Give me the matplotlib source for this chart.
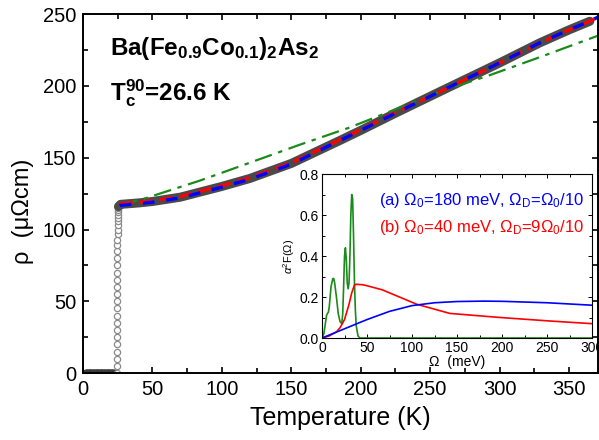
import matplotlib
matplotlib.use('Agg')
import matplotlib.pyplot as plt
from matplotlib.ticker import MultipleLocator

plt.rcParams['font.family'] = ['Liberation Sans', 'DejaVu Sans']
plt.rcParams['mathtext.fontset'] = 'custom'
plt.rcParams['mathtext.rm'] = 'Liberation Sans'
plt.rcParams['mathtext.it'] = 'Liberation Sans:italic'
plt.rcParams['mathtext.bf'] = 'Liberation Sans:bold'

# measured resistivity: superconducting state, transition and normal state
T_zero = [2, 3, 4, 5, 6, 7, 8, 9, 10, 11, 12, 13, 14, 15, 16, 17, 18, 19, 20, 21, 22]
rho_zero = [0, 0, 0, 0, 0, 0, 0, 0, 0, 0, 0, 0, 0, 0, 0, 0, 0, 0, 0, 0, 0]
T_trans = [24.6, 24.6, 24.6, 24.6, 24.6, 24.6, 24.6, 24.6, 24.6, 24.6, 24.6, 24.6,
           24.6, 24.6, 24.6, 24.7, 24.7, 24.7, 24.8, 24.8, 24.9, 24.9, 25.0, 25.0,
           25.1, 25.1, 25.2, 25.2, 25.3, 25.4]
rho_trans = [0, 5, 10, 15, 20, 25, 30, 35, 40, 45, 50, 55, 60, 65, 70, 75, 80, 85,
             89, 93, 97, 100, 103, 106, 108, 110, 112, 113.5, 115, 116]
T_norm = [25.5, 27, 40, 50, 70, 84, 100, 120, 150, 185, 200, 225, 257, 300, 329, 350, 365]
rho_norm = [116, 117.5, 118.5, 119.5, 122.5, 126, 130, 135.5, 146, 162, 169, 181,
            196, 216, 230, 239, 245]

# model curves
T_fit = [26.5, 27, 40, 50, 70, 84, 100, 120, 150, 185, 200, 225, 257, 300, 329, 350, 365, 371]
rho_a = [116.5, 116.8, 118, 119, 122, 125.5, 129.5, 135, 145.5, 162, 169, 181, 196, 216,
         230, 239, 245, 248]
rho_b = [117.5, 118, 119, 120, 123, 126.5, 130.5, 136, 146.5, 162.5, 169.5, 181.5, 196,
         216, 230, 239, 245, 248]
T_c = [26.5, 27, 41, 84, 100, 156, 192, 257, 293, 329, 371]
rho_c = [117.5, 117.5, 120.5, 134, 139.5, 159, 171, 196, 207.5, 220, 235]

# inset: Eliashberg functions
W_g = [0, 2, 4, 5, 6, 7, 8, 10, 12, 13, 14, 16, 18, 20, 22, 23, 24, 25, 26, 27, 28, 29,
       30, 31, 32, 33, 34, 35, 36, 37, 38, 40, 42, 300]
a2F_g = [0, 0.02, 0.08, 0.11, 0.12, 0.125, 0.15, 0.25, 0.29, 0.29, 0.27, 0.2, 0.12, 0.08,
         0.07, 0.12, 0.25, 0.4, 0.44, 0.38, 0.27, 0.24, 0.27, 0.4, 0.6, 0.7, 0.68, 0.5,
         0.28, 0.14, 0.06, 0.01, 0, 0]
W_a = [0, 25, 50, 75, 100, 125, 150, 180, 200, 250, 300]
a2F_a = [0, 0.045, 0.09, 0.13, 0.158, 0.172, 0.178, 0.18, 0.179, 0.172, 0.16]
W_b = [0, 8, 16, 20, 25, 30, 33, 36, 38, 45, 50, 67, 86, 105, 142, 198, 253, 300]
a2F_b = [0, 0.01, 0.03, 0.05, 0.09, 0.165, 0.22, 0.258, 0.262, 0.26, 0.255, 0.235, 0.2,
         0.165, 0.12, 0.1, 0.083, 0.07]

fig = plt.figure(figsize=(5.99, 4.40), dpi=100)
ax = fig.add_axes([0.1386, 0.152, 0.86, 0.816])

ax.plot(T_zero, rho_zero, 'o', ms=4.5, mfc='none', mec='#3a3a3a', mew=1.4)
ax.plot(T_trans, rho_trans, 'o', ms=4.5, mfc='white', mec='#8a8a8a', mew=0.9)
ax.plot(T_norm, rho_norm, '-', color='#4a4a4a', lw=6.5, solid_capstyle='round')
ax.plot(T_c, rho_c, color='#1a8a1a', lw=1.6, dashes=(8, 3, 2, 3))
ax.plot(T_fit, rho_b, color='#ff0000', lw=2.4, dashes=(4, 2))
ax.plot(T_fit, rho_a, color='#0000ff', lw=2.4, dashes=(3.5, 3.5))

ax.set_xlim(0, 371)
ax.set_ylim(0, 250)
ax.xaxis.set_major_locator(MultipleLocator(50))
ax.xaxis.set_minor_locator(MultipleLocator(25))
ax.yaxis.set_major_locator(MultipleLocator(50))
ax.yaxis.set_minor_locator(MultipleLocator(25))
ax.tick_params(which='both', direction='in', top=True, right=True, width=1.2)
ax.tick_params(which='major', length=4, labelsize=14.5, pad=5)
ax.tick_params(which='minor', length=3.5)
for s in ax.spines.values():
    s.set_linewidth(1.4)

ax.set_xlabel('Temperature (K)', fontsize=18, labelpad=5)
ax.set_ylabel('ρ  (μΩcm)', fontsize=17)
ax.yaxis.set_label_coords(-0.095, 0.45)

ax.text(0.052, 0.886, r'Ba(Fe$_\mathbf{0.9}$Co$_\mathbf{0.1}$)$_\mathbf{2}$As$_\mathbf{2}$',
        transform=ax.transAxes, fontsize=17.5, fontweight='bold', va='baseline')
ax.text(0.052, 0.760, r'T$_\mathbf{c}^\mathbf{90}$=26.6 K',
        transform=ax.transAxes, fontsize=17.5, fontweight='bold', va='baseline')

# inset
ins = fig.add_axes([0.5376, 0.2318, 0.4508, 0.3727])
ins.plot(W_g, a2F_g, color='#1a8a1a', lw=1.2)
ins.plot(W_b, a2F_b, color='#ff0000', lw=1.2)
ins.plot(W_a, a2F_a, color='#0000ff', lw=1.2)
ins.set_xlim(0, 300)
ins.set_ylim(0, 0.8)
ins.xaxis.set_major_locator(MultipleLocator(50))
ins.xaxis.set_minor_locator(MultipleLocator(25))
ins.yaxis.set_major_locator(MultipleLocator(0.2))
ins.yaxis.set_minor_locator(MultipleLocator(0.1))
ins.yaxis.set_major_formatter('{x:.1f}')
ins.tick_params(which='both', direction='in', top=True, right=True, width=0.7,
                labelsize=10, pad=2)
ins.tick_params(which='major', length=3)
ins.tick_params(which='minor', length=2)
for s in ins.spines.values():
    s.set_linewidth(0.8)
ins.set_xlabel('Ω  (meV)', fontsize=10, labelpad=0)
ins.set_ylabel(r'$\alpha^2$F(Ω)', fontsize=8, labelpad=2)

ins.text(0.211, 0.811, r'(a) $\Omega_0$=180 meV, $\Omega_\mathrm{D}$=$\Omega_0$/10',
         transform=ins.transAxes, fontsize=12, color='#0000ff', va='baseline')
ins.text(0.211, 0.646, r'(b) $\Omega_0$=40 meV, $\Omega_\mathrm{D}$=9$\Omega_0$/10',
         transform=ins.transAxes, fontsize=12, color='#ff0000', va='baseline')

fig.savefig('out.png', dpi=100)
